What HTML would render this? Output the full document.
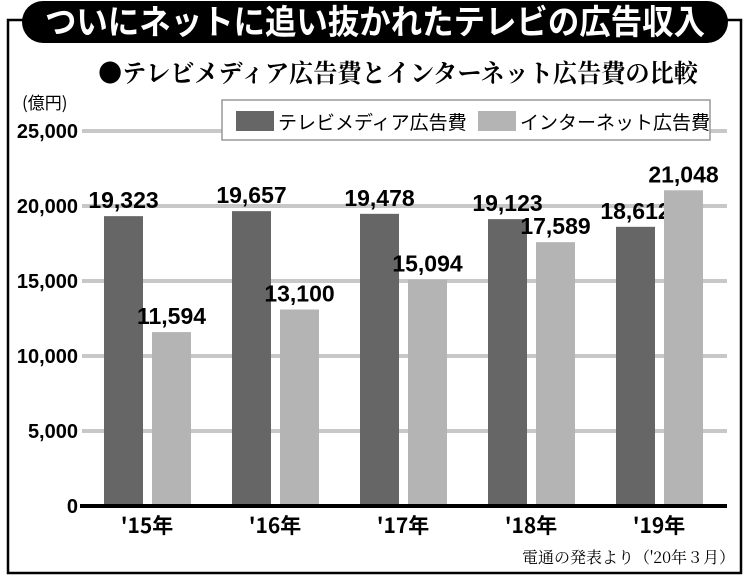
<!DOCTYPE html>
<html><head><meta charset="utf-8"><style>
body{margin:0;width:750px;height:582px;background:#fff;overflow:hidden;font-family:"Liberation Sans Narrow","Liberation Sans","Noto Sans CJK JP",sans-serif}
</style></head><body>
<svg width="750" height="582" xmlns="http://www.w3.org/2000/svg">
<rect x="8" y="20" width="733" height="553" fill="#fff" stroke="#000" stroke-width="2.5"/>
<rect x="22" y="1" width="706" height="42" rx="21" fill="#000"/>
<text x="375" y="34" text-anchor="middle" fill="#fff" font-size="34" font-weight="bold" font-family="'Noto Sans CJK JP',sans-serif" textLength="660" lengthAdjust="spacingAndGlyphs">ついにネットに追い抜かれたテレビの広告収入</text>
<text x="398" y="82" text-anchor="middle" fill="#000" font-size="25" font-weight="bold" font-family="'Noto Serif CJK SC','Noto Sans CJK JP',serif" textLength="600" lengthAdjust="spacingAndGlyphs">●テレビメディア広告費とインターネット広告費の比較</text>
<text x="22" y="109" font-size="17" font-family="'Noto Sans CJK JP',sans-serif">(億円)</text>
<g id="grid"></g>
<g id="bars"></g>
<rect x="222" y="100" width="488" height="40" fill="#fff" stroke="#999" stroke-width="1.5"/>
<rect x="236" y="111" width="38" height="20" fill="#666"/>
<text x="278" y="129" font-size="19" font-family="'Noto Sans CJK JP',sans-serif">テレビメディア広告費</text>
<rect x="478" y="111" width="38" height="20" fill="#b4b4b4"/>
<text x="520" y="129" font-size="19" font-family="'Noto Sans CJK JP',sans-serif">インターネット広告費</text>
<text x="735" y="563" text-anchor="end" font-size="16" font-family="'Noto Serif CJK SC',serif">電通の発表より（'20年３月）</text>
</svg>
<script>
const categories=["'15年","'16年","'17年","'18年","'19年"];
const tvValues=[19323,19657,19478,19123,18612];
const netValues=[11594,13100,15094,17589,21048];
const yTicks=[0,5000,10000,15000,20000,25000];
const NS="http://www.w3.org/2000/svg";
const y0=506,yMax=25000,plotH=375;
function yScale(v){return y0-v*plotH/yMax;}
function xGroup(i){return 147+i*128;}
function mk(tag,attrs,parent){const e=document.createElementNS(NS,tag);for(const k in attrs)e.setAttribute(k,attrs[k]);parent.appendChild(e);return e;}
const grid=document.getElementById('grid'),bars=document.getElementById('bars');
function fmt(v){return v.toLocaleString('en-US');}
yTicks.forEach(t=>{
  if(t>0){const l=mk('line',{x1:82,x2:727,y1:yScale(t),y2:yScale(t),stroke:'#c8c8c8','stroke-width':4},grid);
  
  }
  const tx=mk('text',{x:78,y:yScale(t)+7,'text-anchor':'end','font-size':20,'font-weight':'bold'},grid);
  tx.textContent=fmt(t);
  
  
});
categories.forEach((c,i)=>{
  const cx=xGroup(i);
  [[tvValues[i],'#666',cx-43,'tv'],[netValues[i],'#b4b4b4',cx+5,'net']].forEach(([v,col,x,s])=>{
    const r=mk('rect',{x:x,y:yScale(v),width:39,height:y0-yScale(v),fill:col},bars);
    
    
    const t=mk('text',{x:x+19.5,y:yScale(v)-8,'text-anchor':'middle','font-size':23,'font-weight':'bold'},bars);
    t.textContent=fmt(v);
    
    
  });
  const xl=mk('text',{x:cx,y:533,'text-anchor':'middle','font-size':21,'font-weight':'bold','font-family':"'Liberation Sans Narrow','Noto Sans CJK JP',sans-serif"},bars);
  xl.textContent=c;
  
  
});
const base=mk('line',{x1:80,x2:727,y1:y0,y2:y0,stroke:'#000','stroke-width':4},bars);


</script>
</body></html>
